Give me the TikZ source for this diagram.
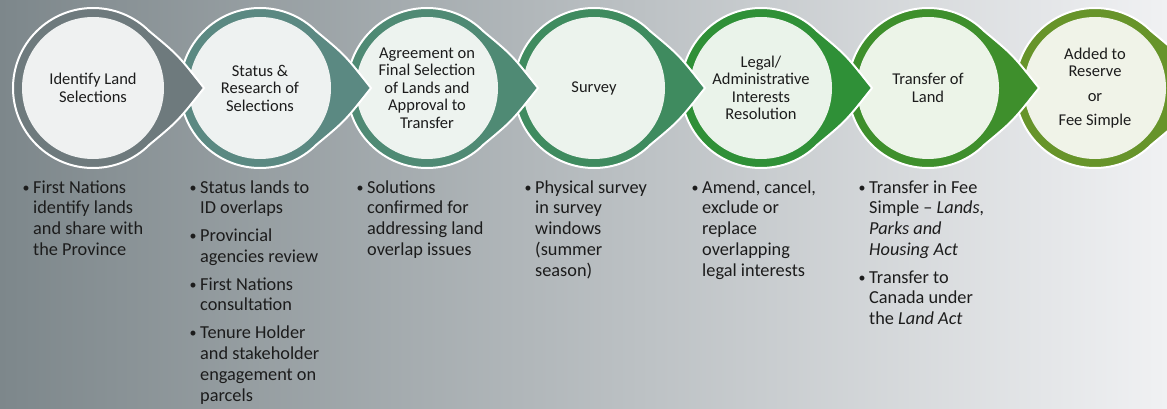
\documentclass[tikz,border=0pt]{standalone}
\usepackage{fontspec}
\setmainfont{Carlito}
\definecolor{bgL}{HTML}{7D878B}
\definecolor{bgM}{HTML}{B9BDC0}
\definecolor{bgR}{HTML}{F0F1F3}
\definecolor{ringA}{HTML}{6E7A7D}
\definecolor{ringB}{HTML}{5B8982}
\definecolor{ringC}{HTML}{4F8A74}
\definecolor{ringD}{HTML}{3F8B5F}
\definecolor{ringE}{HTML}{2F9037}
\definecolor{ringF}{HTML}{3E8F2C}
\definecolor{ringG}{HTML}{67942A}
\definecolor{inA}{HTML}{EFF1F1}
\definecolor{inB}{HTML}{EEF2F1}
\definecolor{inC}{HTML}{EDF3EF}
\definecolor{inD}{HTML}{ECF3ED}
\definecolor{inE}{HTML}{EAF3EA}
\definecolor{inF}{HTML}{ECF4E8}
\definecolor{inG}{HTML}{F0F3E8}
\definecolor{txt}{HTML}{1C1C1C}
\newcommand{\chevstep}[3]{%
\begin{scope}[shift={(#1pt,-88pt)}]
\path[fill=#2, draw=white, line width=2pt, line join=miter]
  (45:80pt) .. controls (85pt,33pt) .. (111pt,0pt)
  .. controls (85pt,-33pt) .. (-45:80pt)
  arc[start angle=-45, end angle=-315, radius=80pt] -- cycle;
\fill[#3] (0,0) circle[radius=71pt];
\end{scope}}
\newcommand{\bl}{\makebox[11pt][l]{\hspace*{0.5pt}\raisebox{1pt}{\fontsize{14}{14}\selectfont•}}}
\tikzset{
  steptitle/.style={align=center, text=txt, inner sep=0pt,
    font=\fontsize{16.5}{17.5}\selectfont},
  bullets/.style={anchor=base west, inner sep=0pt, text=txt,
    font=\fontsize{18.3}{20.8}\selectfont}
}
\begin{document}
\begin{tikzpicture}
\useasboundingbox (0,0) rectangle (1167pt,-409pt);
\clip (0,0) rectangle (1167pt,-409pt);
\shade[left color=bgL, middle color=bgM, right color=bgR] (0,0) rectangle (1167pt,-409pt);
\chevstep{1095}{ringG}{inG}
\chevstep{928}{ringF}{inF}
\chevstep{761}{ringE}{inE}
\chevstep{594}{ringD}{inD}
\chevstep{427}{ringC}{inC}
\chevstep{260}{ringB}{inB}
\chevstep{93}{ringA}{inA}
\node[steptitle] (t1) at (93pt,-88pt) {Identify Land\\Selections};
\node[steptitle] (t2) at (260pt,-88pt) {Status \&\\Research of\\Selections};
\node[steptitle] (t3) at (427pt,-88pt) {Agreement on\\Final Selection\\of Lands and\\Approval to\\Transfer};
\node[steptitle] (t4) at (594pt,-88pt) {Survey};
\node[steptitle] (t5) at (761pt,-88pt) {Legal/\\Administrative\\Interests\\Resolution};
\node[steptitle] (t6) at (928pt,-88pt) {Transfer of\\Land};
\node[steptitle] (t7) at (1095pt,-88pt) {Added to\\Reserve\\[7pt]or\\[7pt]Fee Simple};
\node[bullets] (b1) at (22pt,-193pt) {\begin{tabular}[t]{@{}l@{}}
\bl First Nations\\ \hspace*{11pt}identify lands\\ \hspace*{11pt}and share with\\ \hspace*{11pt}the Province\end{tabular}};
\node[bullets] (b2) at (189pt,-193pt) {\begin{tabular}[t]{@{}l@{}}
\bl Status lands to\\ \hspace*{11pt}ID overlaps\\[7pt]
\bl Provincial\\ \hspace*{11pt}agencies review\\[7pt]
\bl First Nations\\ \hspace*{11pt}consultation\\[7pt]
\bl Tenure Holder\\ \hspace*{11pt}and stakeholder\\ \hspace*{11pt}engagement on\\ \hspace*{11pt}parcels\end{tabular}};
\node[bullets] (b3) at (356pt,-193pt) {\begin{tabular}[t]{@{}l@{}}
\bl Solutions\\ \hspace*{11pt}confirmed for\\ \hspace*{11pt}addressing land\\ \hspace*{11pt}overlap issues\end{tabular}};
\node[bullets] (b4) at (524pt,-193pt) {\begin{tabular}[t]{@{}l@{}}
\bl Physical survey\\ \hspace*{11pt}in survey\\ \hspace*{11pt}windows\\ \hspace*{11pt}(summer\\ \hspace*{11pt}season)\end{tabular}};
\node[bullets] (b5) at (691pt,-193pt) {\begin{tabular}[t]{@{}l@{}}
\bl Amend, cancel,\\ \hspace*{11pt}exclude or\\ \hspace*{11pt}replace\\ \hspace*{11pt}overlapping\\ \hspace*{11pt}legal interests\end{tabular}};
\node[bullets] (b6) at (858pt,-193pt) {\begin{tabular}[t]{@{}l@{}}
\bl Transfer in Fee\\ \hspace*{11pt}Simple – \textit{Lands,}\\ \hspace*{11pt}\textit{Parks and}\\ \hspace*{11pt}\textit{Housing Act}\\[7pt]
\bl Transfer to\\ \hspace*{11pt}Canada under\\ \hspace*{11pt}the \textit{Land Act}\end{tabular}};
\end{tikzpicture}
\end{document}
